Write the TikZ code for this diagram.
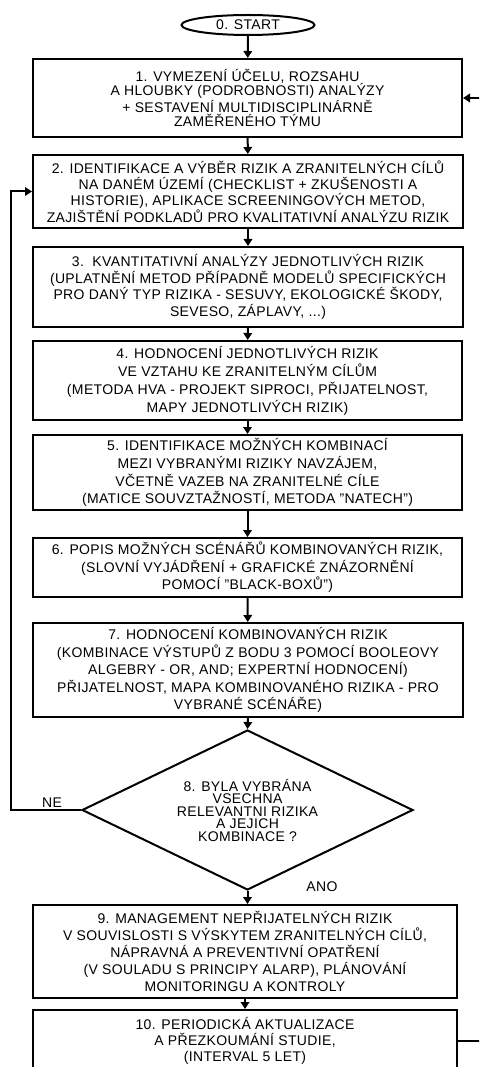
\documentclass[tikz,border=0pt]{standalone}
\usepackage{fontspec}
\setmainfont{Liberation Sans}[LetterSpace=2.5]
\usetikzlibrary{shapes.geometric,arrows.meta}

% straight double quote, bypassing the tex-text mapping
\newcommand\sq{\char34\relax}

\tikzset{
  stepbox/.style={draw, rectangle, line width=2pt, align=center, inner sep=0pt,
    font=\fontsize{14}{17}\selectfont},
  flow/.style={line width=2pt, -{Triangle[length=7pt,width=8.5pt]}},
  lbl/.style={inner sep=0pt, font=\fontsize{14}{16}\selectfont},
}

\begin{document}
\begin{tikzpicture}[x=1pt,y=-1pt]
\useasboundingbox (0,0) rectangle (479,1067);
\clip (0,0) rectangle (479,1067);

% start terminal
\node[ellipse, draw, line width=2pt, minimum width=133pt, minimum height=20pt,
      inner sep=0pt, font=\fontsize{14}{16}\selectfont] (s0) at (248,25) {0. START};

% process steps
\node[stepbox, minimum width=429pt, minimum height=78pt, font=\fontsize{14}{14.5}\selectfont]
  (b1) at (247.5,98)
  {1. VYMEZENÍ ÚČELU, ROZSAHU\\A HLOUBKY (PODROBNOSTI) ANALÝZY\\+ SESTAVENÍ MULTIDISCIPLINÁRNĚ\\ZAMĚŘENÉHO TÝMU};

\node[stepbox, minimum width=430pt, minimum height=73pt, font=\fontsize{14}{16.3}\selectfont]
  (b2) at (248,191.5)
  {2. IDENTIFIKACE A VÝBĚR RIZIK A ZRANITELNÝCH CÍLŮ\\NA DANÉM ÚZEMÍ (CHECKLIST + ZKUŠENOSTI A\\HISTORIE), APLIKACE SCREENINGOVÝCH METOD,\\ZAJIŠTĚNÍ PODKLADŮ PRO KVALITATIVNÍ ANALÝZU RIZIK};

\node[stepbox, minimum width=430pt, minimum height=80pt, font=\fontsize{14}{16.7}\selectfont]
  (b3) at (248,287)
  {3.\ \ KVANTITATIVNÍ ANALÝZY JEDNOTLIVÝCH RIZIK\\(UPLATNĚNÍ METOD PŘÍPADNĚ MODELŮ SPECIFICKÝCH\\PRO DANÝ TYP RIZIKA - SESUVY, EKOLOGICKÉ ŠKODY,\\SEVESO, ZÁPLAVY, ...)};

\node[stepbox, minimum width=429pt, minimum height=79pt, font=\fontsize{14}{18}\selectfont]
  (b4) at (247.5,380.5)
  {4. HODNOCENÍ JEDNOTLIVÝCH RIZIK\\VE VZTAHU KE ZRANITELNÝM CÍLŮM\\(METODA HVA - PROJEKT SIPROCI, PŘIJATELNOST,\\MAPY JEDNOTLIVÝCH RIZIK)};

\node[stepbox, minimum width=429pt, minimum height=75pt, font=\fontsize{14}{17.7}\selectfont]
  (b5) at (247.5,472.5)
  {5. IDENTIFIKACE MOŽNÝCH KOMBINACÍ\\MEZI VYBRANÝMI RIZIKY NAVZÁJEM,\\VČETNĚ VAZEB NA ZRANITELNÉ CÍLE\\(MATICE SOUVZTAŽNOSTÍ, METODA \sq NATECH\sq)};

\node[stepbox, minimum width=429pt, minimum height=59pt, font=\fontsize{14}{17.5}\selectfont]
  (b6) at (247.5,567.5)
  {6. POPIS MOŽNÝCH SCÉNÁŘŮ KOMBINOVANÝCH RIZIK,\\(SLOVNÍ VYJÁDŘENÍ + GRAFICKÉ ZNÁZORNĚNÍ\\POMOCÍ \sq BLACK-BOXŮ\sq)};

\node[stepbox, minimum width=430pt, minimum height=94pt, font=\fontsize{14}{17.5}\selectfont]
  (b7) at (248,670)
  {7. HODNOCENÍ KOMBINOVANÝCH RIZIK\\(KOMBINACE VÝSTUPŮ Z BODU 3 POMOCÍ BOOLEOVY\\ALGEBRY - OR, AND; EXPERTNÍ HODNOCENÍ)\\PŘIJATELNOST, MAPA KOMBINOVANÉHO RIZIKA - PRO\\VYBRANÉ SCÉNÁŘE)};

% decision
\node[diamond, draw, line width=2pt, shape aspect=2.07, minimum width=331pt,
      minimum height=160pt, inner sep=0pt, align=center,
      font=\fontsize{14}{12.5}\selectfont] (d8) at (247.5,810)
  {8. BYLA VYBRÁNA\\VSECHNA\\RELEVANTNI RIZIKA\\A JEJICH\\KOMBINACE ?};

\node[stepbox, minimum width=424pt, minimum height=93pt, font=\fontsize{14}{17}\selectfont]
  (b9) at (245,951.5)
  {9. MANAGEMENT NEPŘIJATELNÝCH RIZIK\\V SOUVISLOSTI S VÝSKYTEM ZRANITELNÝCH CÍLŮ,\\NÁPRAVNÁ A PREVENTIVNÍ OPATŘENÍ\\(V SOULADU S PRINCIPY ALARP), PLÁNOVÁNÍ\\MONITORINGU A KONTROLY};

\node[stepbox, minimum width=424pt, minimum height=62pt, font=\fontsize{14}{16}\selectfont]
  (b10) at (245,1041)
  {10. PERIODICKÁ AKTUALIZACE\\A PŘEZKOUMÁNÍ STUDIE,\\(INTERVAL 5 LET)};

% main flow
\draw[flow] (s0) -- (b1);
\draw[flow] (b1) -- (b2);
\draw[flow] (b2) -- (b3);
\draw[flow] (b3) -- (b4);
\draw[flow] (b4) -- (b5);
\draw[flow] (b5) -- (b6);
\draw[flow] (b6) -- (b7);
\draw[flow] (b7.south) -- (d8.north);
\draw[flow] (d8.south) -- (b9.north -| d8.south);
\draw[flow] (b9) -- (b10);

% loops back
\draw[flow] (d8.west) -- ++(-70,0) coordinate (neturn) |- (b2.west);
\draw[flow] (b10.east) -- ++(25,0) |- (b1.east);

% branch labels
\node[lbl] (ne) at (52,803) {NE};
\node[lbl] (ano) at (322,887) {ANO};
\end{tikzpicture}
\end{document}
